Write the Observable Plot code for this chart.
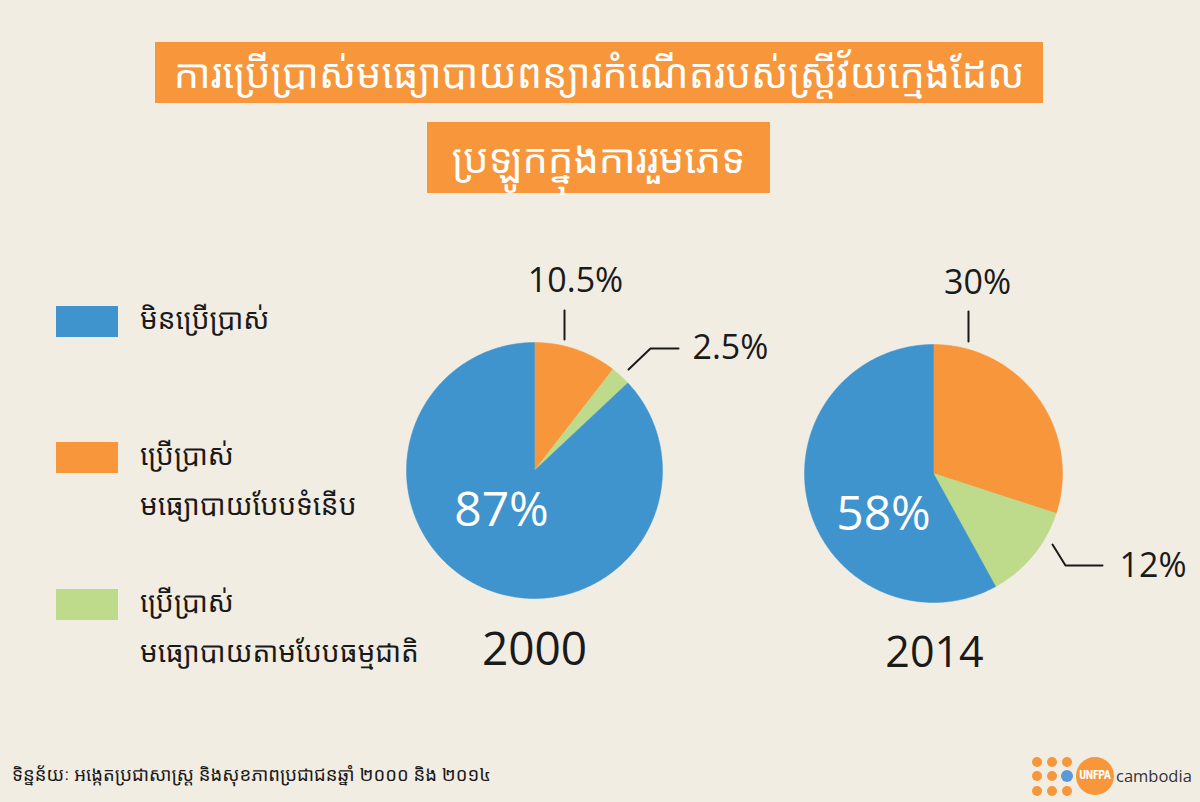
<!DOCTYPE html>
<html>
<head>
<meta charset="utf-8">
<script src="https://cdn.jsdelivr.net/npm/d3@7"></script>
<script src="https://cdn.jsdelivr.net/npm/@observablehq/plot@0.6"></script>
<style>
  html, body { margin:0; padding:0; }
  body { width:1200px; height:802px; background:#f2ede3; position:relative; overflow:hidden;
         font-family: "Noto Sans Khmer", "Khmer OS", "Open Sans", "Noto Sans", sans-serif; }
  .tbox { position:absolute; background:#f7963a; color:#fff; font-size:40px; line-height:1;
          display:flex; align-items:center; justify-content:center; white-space:nowrap; }
  .sw { position:absolute; width:62px; height:31px; }
  .lt { position:absolute; left:140px; font-size:28px; color:#1a1a1a; white-space:nowrap; line-height:1; }
  #chart { position:absolute; left:0; top:250px; }
  #src { position:absolute; left:12px; top:761px; font-size:18.5px; color:#1a1a1a; white-space:nowrap; }
  .dot { position:absolute; width:10px; height:10px; border-radius:50%; background:#f7963a; }
</style>
</head>
<body>
<div class="tbox" id="t1" style="left:155px; top:42px; width:888px; height:61px;"></div>
<div class="tbox" id="t2" style="left:427px; top:122px; width:343px; height:71px;"></div>
<div id="legend"></div>
<div id="chart"></div>
<div id="src"></div>
<div id="logo"></div>
<script>
// ---- data ----
const titleLines = ["ការប្រើប្រាស់មធ្យោបាយពន្យារកំណើតរបស់ស្ត្រីវ័យក្មេងដែល", "ប្រឡូកក្នុងការរួមភេទ"];
const categories = ["មិនប្រើប្រាស់", "ប្រើប្រាស់ មធ្យោបាយបែបទំនើប", "ប្រើប្រាស់ មធ្យោបាយតាមបែបធម្មជាតិ"];
const legendLines = [["មិនប្រើប្រាស់"], ["ប្រើប្រាស់", "មធ្យោបាយបែបទំនើប"], ["ប្រើប្រាស់", "មធ្យោបាយតាមបែបធម្មជាតិ"]];
const colors = ["#3f94cd", "#f7963a", "#bedb8c"];
const years = ["2000", "2014"];
const notUsing = [87, 58];
const modern = [10.5, 30];
const natural = [2.5, 12];
const sourceText = "ទិន្នន័យៈ អង្កេតប្រជាសាស្ត្រ និងសុខភាពប្រជាជនឆ្នាំ ២០០០ និង ២០១៤";

// ---- title / legend / source ----
document.getElementById("t1").textContent = titleLines[0];
document.getElementById("t2").textContent = titleLines[1];
const legendTop = [306, 442, 589];
const lg = document.getElementById("legend");
legendTop.forEach((t, i) => {
  const s = document.createElement("div");
  s.className = "sw"; s.style.left = "56px"; s.style.top = t + "px"; s.style.background = colors[i];
  lg.appendChild(s);
  legendLines[i].forEach((line, j) => {
    const d = document.createElement("div");
    d.className = "lt"; d.style.top = (t - 2 + j * 50) + "px"; d.textContent = line;
    lg.appendChild(d);
  });
});
document.getElementById("src").textContent = sourceText;

// ---- pies ----
const pies = [
  {year: years[0], cx: 534, cy: 470, r: 128},
  {year: years[1], cx: 933, cy: 473, r: 129}
];
// slices clockwise from 12 o'clock: modern, natural, not using
const sliceData = years.map((y, i) => [
  {cat: categories[1], value: modern[i], color: colors[1]},
  {cat: categories[2], value: natural[i], color: colors[2]},
  {cat: categories[0], value: notUsing[i], color: colors[0]}
]);
const marks = [];
sliceData.forEach((slices, pi) => {
  const {cx, cy, r} = pies[pi];
  const total = d3.sum(slices, d => d.value);
  let acc = 0;
  slices.forEach(s => {
    const a0 = acc / total * 2 * Math.PI;
    acc += s.value;
    const a1 = acc / total * 2 * Math.PI;
    const n = Math.max(2, Math.ceil((a1 - a0) / 0.01));
    const pts = [{x: cx, y: cy}];
    for (let k = 0; k <= n; k++) {
      const a = a0 + (a1 - a0) * k / n;
      pts.push({x: cx + r * Math.sin(a), y: cy - r * Math.cos(a)});
    }
    pts.push({x: cx, y: cy});
    marks.push(Plot.line(pts, {x: "x", y: "y", fill: s.color, stroke: s.color, strokeWidth: 0.5, curve: "linear"}));
  });
});

const fmt = v => v + "%";
// outside labels
const outLabels = [
  {x: 575, y: 281, text: fmt(modern[0]), anchor: "middle"},
  {x: 692, y: 348, text: fmt(natural[0]), anchor: "start"},
  {x: 977, y: 283, text: fmt(modern[1]), anchor: "middle"},
  {x: 1119, y: 566, text: fmt(natural[1]), anchor: "start"}
];
const leaders = [
  [{x: 564, y: 310}, {x: 564, y: 339}],
  [{x: 628, y: 369}, {x: 650, y: 348}, {x: 678, y: 348}],
  [{x: 968, y: 311}, {x: 968, y: 341}],
  [{x: 1052, y: 544}, {x: 1065, y: 565}, {x: 1102, y: 565}]
];
leaders.forEach(l => marks.push(Plot.line(l, {x: "x", y: "y", stroke: "#1a1a1a", strokeWidth: 2})));
marks.push(Plot.text(outLabels.filter(d => d.anchor === "middle"), {x: "x", y: "y", text: "text", fontSize: 34, fill: "#1a1a1a", textAnchor: "middle", fontFamily: "Open Sans"}));
marks.push(Plot.text(outLabels.filter(d => d.anchor === "start"), {x: "x", y: "y", text: "text", fontSize: 34, fill: "#1a1a1a", textAnchor: "start", fontFamily: "Open Sans"}));
// inside labels
const inLabels = [
  {x: 501, y: 510, text: fmt(notUsing[0])},
  {x: 883, y: 514, text: fmt(notUsing[1])}
];
marks.push(Plot.text(inLabels, {x: "x", y: "y", text: "text", fontSize: 48, fill: "#ffffff", fontFamily: "Open Sans"}));
// years
const yearLabels = [
  {x: 534, y: 650, text: years[0], size: 46},
  {x: 934, y: 653, text: years[1], size: 43}
];
marks.push(Plot.text(yearLabels.slice(0, 1), {x: "x", y: "y", text: "text", fontSize: 46, fill: "#1a1a1a", fontFamily: "Open Sans"}));
marks.push(Plot.text(yearLabels.slice(1), {x: "x", y: "y", text: "text", fontSize: 43, fill: "#1a1a1a", fontFamily: "Open Sans"}));

const chart = Plot.plot({
  width: 1200, height: 440,
  margin: 0,
  x: {domain: [0, 1200], range: [0, 1200], axis: null},
  y: {domain: [250, 690], range: [0, 440], axis: null},
  style: {background: "transparent", overflow: "visible"},
  marks
});
document.getElementById("chart").appendChild(chart);

// ---- logo ----
const logo = document.getElementById("logo");
[[1037,762],[1052,762],[1067,762],[1037,776],[1052,776],[1037,791],[1052,791],[1067,791]].forEach(([x, y]) => {
  const d = document.createElement("div"); d.className = "dot";
  d.style.left = (x - 5) + "px"; d.style.top = (y - 5) + "px"; logo.appendChild(d);
});
logo.insertAdjacentHTML("beforeend",
  '<div style="position:absolute;left:1061px;top:770px;width:12px;height:12px;border-radius:50%;background:#5b9bd5;"></div>' +
  '<div style="position:absolute;left:1076px;top:757px;width:38px;height:38px;border-radius:50%;background:#f7963a;"></div>' +
  '<div style="position:absolute;left:1074px;top:768px;width:42px;text-align:center;color:#fff;font:bold 12px \'Liberation Sans Narrow\',\'Roboto Condensed\',\'Roboto\',sans-serif;letter-spacing:-0.3px;">UNFPA</div>' +
  '<div style="position:absolute;left:1116px;top:764px;color:#333;font:16.5px \'Open Sans\',sans-serif;">cambodia</div>');
</script>
</body>
</html>
